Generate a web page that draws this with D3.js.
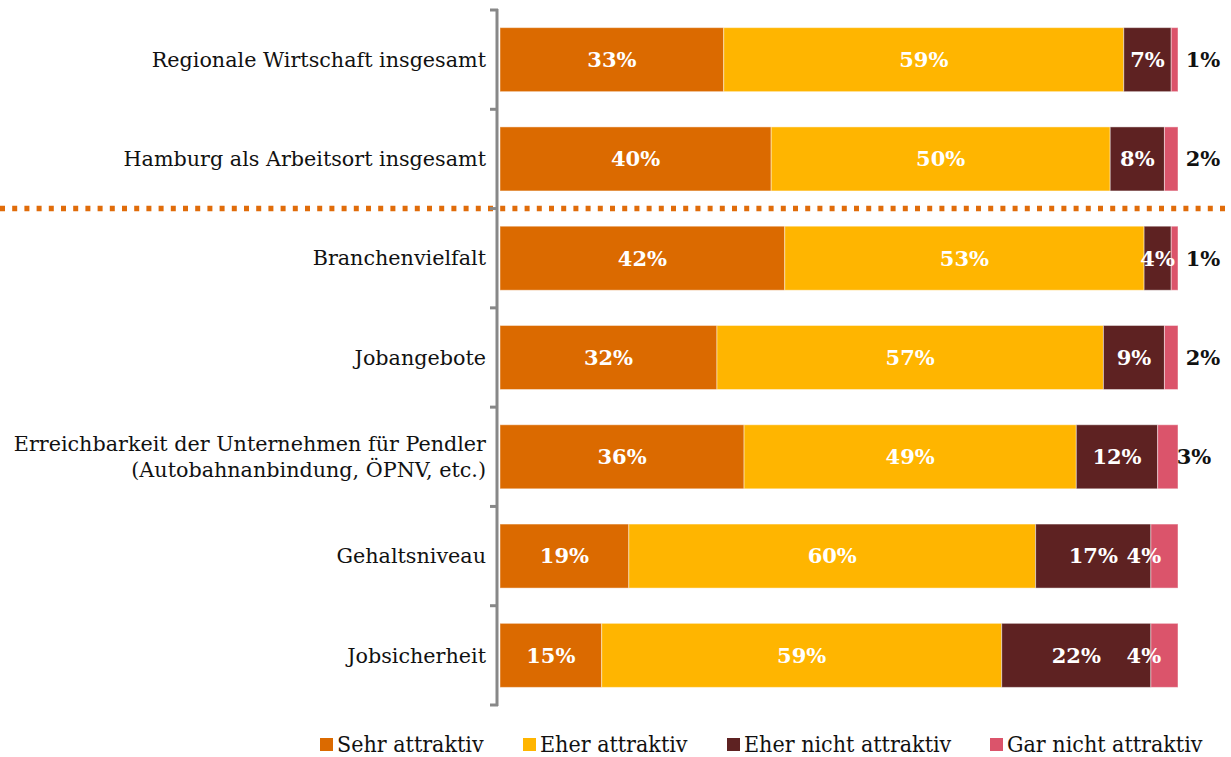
<!DOCTYPE html>
<html>
<head>
<meta charset="utf-8">
<script src="https://cdn.jsdelivr.net/npm/d3@7"></script>
<style>
  body { margin: 0; background: #fff; }
  svg { display: block; }
</style>
</head>
<body>
<div id="chart"></div>
<script>
var categories = [
  ["Regionale Wirtschaft insgesamt"],
  ["Hamburg als Arbeitsort insgesamt"],
  ["Branchenvielfalt"],
  ["Jobangebote"],
  ["Erreichbarkeit der Unternehmen für Pendler", "(Autobahnanbindung, ÖPNV, etc.)"],
  ["Gehaltsniveau"],
  ["Jobsicherheit"]
];
var seriesNames = ["Sehr attraktiv", "Eher attraktiv", "Eher nicht attraktiv", "Gar nicht attraktiv"];
var sehr      = [33, 40, 42, 32, 36, 19, 15];
var eher      = [59, 50, 53, 57, 49, 60, 59];
var eherNicht = [7, 8, 4, 9, 12, 17, 22];
var garNicht  = [1, 2, 1, 2, 3, 4, 4];
var colors = ["#db6a00", "#ffb500", "#5e2222", "#db546b"];

var w = 1231, h = 757;
var svg = d3.select("#chart").append("svg")
  .attr("width", w).attr("height", h);

var rows = categories.map(function(c, i) {
  return { key: i, label: c, vals: [sehr[i], eher[i], eherNicht[i], garNicht[i]] };
});

var x = d3.scaleLinear().domain([0, 100]).range([500, 1178]);
var y = d3.scaleBand().domain(d3.range(categories.length))
  .range([10, 705]).paddingInner(0.355).paddingOuter(0.1775);

var stack = d3.stack().keys([0, 1, 2, 3]).value(function(d, k) { return d.vals[k]; });
var layers = stack(rows);

// bars
var g = svg.append("g");
g.selectAll("g.layer")
  .data(layers)
  .enter().append("g")
  .attr("class", "layer")
  .style("fill", function(d) { return colors[d.key]; })
  .selectAll("rect")
  .data(function(d) { return d; })
  .enter().append("rect")
  .attr("x", function(d) { return x(d[0]); })
  .attr("width", function(d) { return x(d[1]) - x(d[0]); })
  .attr("y", function(d, i) { return y(i); })
  .attr("height", y.bandwidth())
  .style("stroke", "#ffffff")
  .style("stroke-opacity", 0.45)
  .style("stroke-width", 1);

// value labels
layers.forEach(function(layer) {
  layer.forEach(function(d, i) {
    var v = d[1] - d[0];
    var cx = (x(d[0]) + x(d[1])) / 2;
    var fill = "#fff";
    if (layer.key === 3) {
      if (v < 3) { cx = x(100) + 25; fill = "#111"; }
      else if (v === 3) { cx = x(100) + 16; fill = "#111"; }
      else { cx = x(d[0]) - 7; }
    }
    svg.append("text")
      .attr("x", cx)
      .attr("y", y(i) + y.bandwidth() / 2)
      .attr("dy", "0.35em")
      .attr("text-anchor", "middle")
      .style("font-family", "'DejaVu Serif', serif")
      .style("font-weight", "bold")
      .style("font-size", "21px")
      .style("fill", fill)
      .text(v + "%");
  });
});

// category labels
var lab = svg.append("g");
rows.forEach(function(r, i) {
  var t = lab.append("text")
    .attr("text-anchor", "end")
    .attr("x", 486)
    .attr("y", y(i) + y.bandwidth() / 2)
    .style("font-family", "'DejaVu Serif', serif")
    .style("font-size", "20.7px")
    .style("fill", "#111");
  var n = r.label.length;
  r.label.forEach(function(line, j) {
    t.append("tspan")
      .attr("x", 486)
      .attr("dy", j === 0 ? (0.35 - (n - 1) * 0.65) + "em" : "1.3em")
      .text(line);
  });
});

// dotted separator with soft shadow
var defs = svg.append("defs");
defs.append("filter").attr("id", "blur")
  .attr("x", "-5%").attr("y", "-200%").attr("width", "110%").attr("height", "500%")
  .append("feGaussianBlur").attr("stdDeviation", 2.5);
var sepY = y.step() * 2 + 10;
svg.append("line")
  .attr("x1", 0).attr("x2", w)
  .attr("y1", sepY + 6).attr("y2", sepY + 6)
  .style("stroke", "#aaa").style("stroke-width", 5)
  .style("opacity", 0.6)
  .attr("filter", "url(#blur)");
svg.append("line")
  .attr("x1", 0).attr("x2", w)
  .attr("y1", sepY).attr("y2", sepY)
  .style("stroke", "#e06c0a").style("stroke-width", 5.5)
  .style("stroke-dasharray", "5,7.2");

// axis
var axis = svg.append("g").style("stroke", "#888").style("stroke-width", 3).style("fill", "none");
axis.append("line").attr("x1", 497).attr("x2", 497).attr("y1", 9).attr("y2", 706);
d3.range(categories.length + 1).forEach(function(i) {
  var ty = 10 + i * y.step();
  axis.append("line").attr("x1", 490).attr("x2", 498).attr("y1", ty).attr("y2", ty);
});

// legend
var legX = [320, 523, 727, 990];
var leg = svg.append("g");
seriesNames.forEach(function(s, i) {
  leg.append("rect")
    .attr("x", legX[i]).attr("y", 738)
    .attr("width", 13).attr("height", 13)
    .style("fill", colors[i]);
  leg.append("text")
    .attr("transform", "translate(" + (legX[i] + 17) + ",752) scale(0.9,1)")
    .style("font-family", "'DejaVu Serif', serif")
    .style("font-size", "23px")
    .style("fill", "#111")
    .text(s);
});
</script>
</body>
</html>
